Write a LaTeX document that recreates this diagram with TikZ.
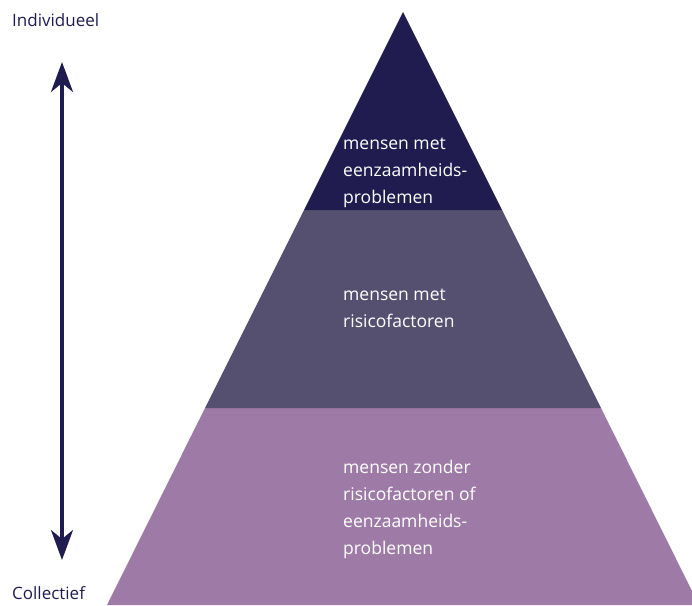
\documentclass[tikz,border=0pt]{standalone}
\usepackage{fontspec}
\setmainfont{Open Sans}
\usepackage{tikz}
\usetikzlibrary{arrows.meta,positioning,calc}

\definecolor{navy}{HTML}{201C50}
\definecolor{slate}{HTML}{55506F}
\definecolor{mauve}{HTML}{9E7BA6}

\begin{document}
\begin{tikzpicture}[
    x=1pt, y=-1pt,
    band/.style={draw=none},
    label/.style={anchor=base west, inner sep=0pt, text=white, align=left, font=\fontsize{17.5}{27}\selectfont},
    side/.style={anchor=west, inner sep=0pt, text=navy, font=\fontsize{17}{20}\selectfont},
    line/.style={draw=navy, line width=3.5pt, {Stealth[length=30pt,width=22pt,inset=9pt]}-{Stealth[length=30pt,width=22pt,inset=9pt]}}
]
    \useasboundingbox (0,0) rectangle (692,605);
    \clip (0,0) rectangle (692,605);

    % Pyramid
    \fill [band, mauve] (205,408) -- (601,408) -- (699,605) -- (107,605) -- cycle;
    \fill [band, slate] (304,210) -- (502,210) -- (601,408) -- (205,408) -- cycle;
    \fill [band, navy] (403,12) -- (502,210) -- (304,210) -- cycle;

    % Nodes (anchored on the last line)
    \node [label] (top) at (343,203) {mensen met\\eenzaamheids-\\problemen};
    \node [label] (mid) at (343,327) {mensen met\\risicofactoren};
    \node [label] (low) at (343,554) {mensen zonder\\risicofactoren of\\eenzaamheids-\\problemen};

    \node [side] (indiv) at (12,20) {Individueel};
    \node [side] (coll) at (12,593) {Collectief};

    % Scale arrow
    \coordinate (up) at (62,62);
    \coordinate (down) at (62,560);
    \draw [line] (up) -- (down);

\end{tikzpicture}
\end{document}
